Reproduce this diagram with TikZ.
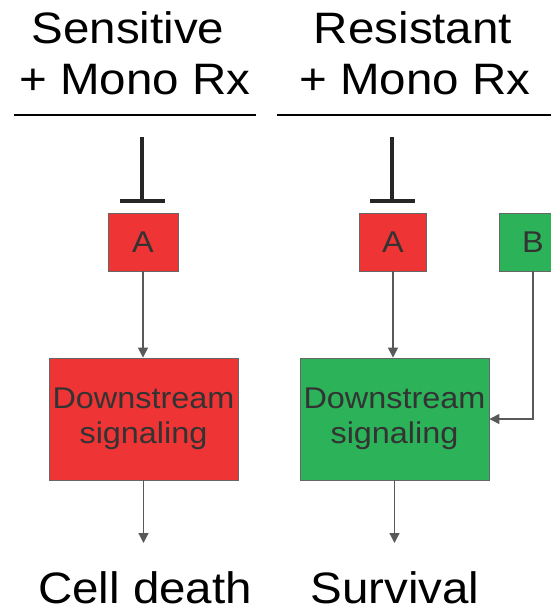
\documentclass[tikz,border=0pt]{standalone}
\usepackage{fontspec}
\setmainfont{Liberation Sans}[FakeStretch=1.08]
\usepackage{tikz}
\usetikzlibrary{arrows.meta}
\definecolor{sensred}{RGB}{238,52,52}
\definecolor{resgreen}{RGB}{44,178,88}

\begin{document}
\begin{tikzpicture}[x=1pt, y=-1pt,
    hdr/.style={font=\fontsize{44}{48}\selectfont, inner sep=0pt, anchor=base},
    box/.style={draw=black!60, line width=0.8pt, text=black!80, inner sep=0pt,
      font=\fontsize{30}{35}\selectfont, align=center},
    redbox/.style={box, fill=sensred},
    greenbox/.style={box, fill=resgreen},
    flow/.style={draw=black!65, line width=1.2pt, -{Triangle[length=10pt, width=10pt]}},
    inhibit/.style={draw=black!85, line width=3.5pt, -{Bar[width=45pt]}},
    rule/.style={line width=2.5pt}]
    \useasboundingbox (0,0) rectangle (550,611);
    % column headers
    \node[hdr] (sens) at (128,43) {Sensitive};
    \node[hdr] (monoL) at (135,94) {+ Mono Rx};
    \node[hdr] (res) at (413,43) {Resistant};
    \node[hdr] (monoR) at (415,94) {+ Mono Rx};
    \draw[rule] (14,115) -- (256,115); \draw[rule] (277,115) -- (552,115);
    % sensitive cells
    \node[redbox, minimum width=70pt, minimum height=58pt] (aL) at (143,242) {A};
    \node[redbox, minimum width=189pt, minimum height=122pt] (dsL) at (143.5,419) {Downstream\\signaling};
    \coordinate (drugL) at (142,137); \coordinate (endL) at (143.5,543);
    \draw[inhibit] (drugL) -- ([yshift=10pt]drugL |- aL.north);
    \draw[flow] (aL.south) -- (aL.south |- dsL.north);
    \draw[flow] (dsL.south) -- (endL);
    \node[hdr] (death) at (145,603) {Cell death};
    % resistant cells
    \node[redbox, minimum width=67pt, minimum height=58pt] (aR) at (393,242) {A};
    \node[greenbox, minimum width=67pt, minimum height=58pt] (bR) at (533,242) {B};
    \node[greenbox, minimum width=189pt, minimum height=122pt] (dsR) at (394.5,419) {Downstream\\signaling};
    \coordinate (drugR) at (392,137); \coordinate (endR) at (394.5,543);
    \draw[inhibit] (drugR) -- ([yshift=10pt]drugR |- aR.north);
    \draw[flow] (aR.south) -- (aR.south |- dsR.north);
    \draw[flow] (bR.south) |- (dsR.east);
    \draw[flow] (dsR.south) -- (endR);
    \node[hdr] (surv) at (395,603) {Survival};
\end{tikzpicture}
\end{document}
